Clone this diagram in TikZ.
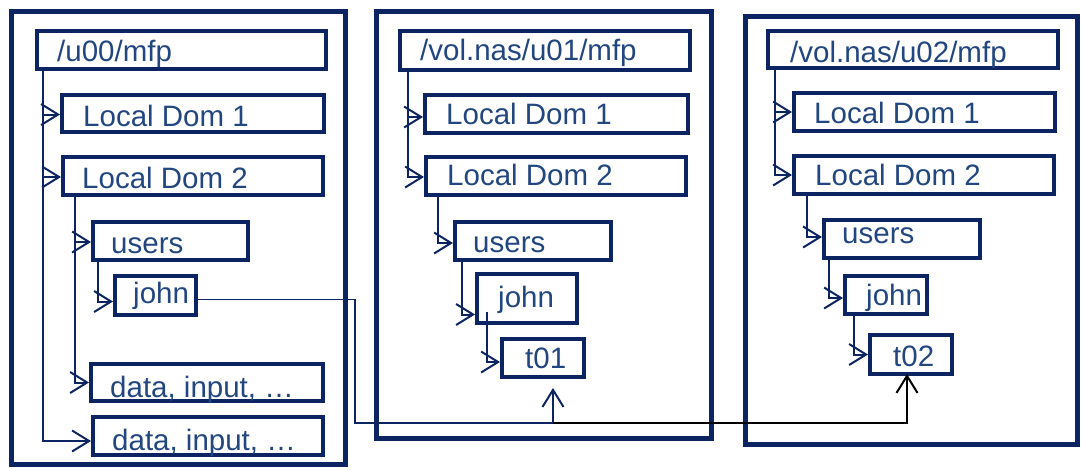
\documentclass[tikz,border=0pt]{standalone}
\usepackage{fontspec}
\setmainfont{Liberation Sans}
\usetikzlibrary{arrows.meta,calc}
\definecolor{navy}{HTML}{0C2461}
\definecolor{txtblue}{HTML}{22467F}
\newcommand\mkbox[8]{%
  \node[box, minimum width=#4pt, minimum height=#5pt] (#1) at (#2,#3) {};
  \node[lbl] (#1-t) at ([xshift=#7pt,yshift=#8pt]#1.south west) {#6};}
\begin{document}
\begin{tikzpicture}[x=1pt,y=-1pt,
  panel/.style={draw=navy, line width=5pt, anchor=north west, inner sep=0pt, outer sep=2.5pt},
  box/.style={draw=navy, line width=4pt, anchor=north west, inner sep=0pt, outer sep=2pt},
  lbl/.style={font=\fontsize{29.5}{32}\selectfont, text=txtblue, inner sep=0pt, anchor=base west},
  barb/.tip={Straight Barb[length=17pt,width=21pt,line width=2pt]},
  tree/.style={draw=navy, line width=2pt, -barb},
  bluelink/.style={draw=navy, line width=1.6pt},
  blacklink/.style={draw=black, line width=1.6pt}]
\useasboundingbox (0,0) rectangle (1081,469);
% panels
\node[panel, minimum width=334pt, minimum height=453pt] (p1) at (9,9) {};
\node[panel, minimum width=335pt, minimum height=427pt] (p2) at (374,9) {};
\node[panel, minimum width=332pt, minimum height=428pt] (p3) at (743,14) {};
% panel 1
\mkbox{root1}{35}{29}{289}{38}{/u00/mfp}{22}{10}
\mkbox{ldA1}{60}{93}{262}{37}{Local Dom 1}{23}{8}
\mkbox{ldB1}{61}{155}{260}{38}{Local Dom 2}{21}{9}
\mkbox{users1}{91}{220}{155}{38}{users}{20}{9}
\mkbox{john1}{113}{274}{81}{39}{john}{20}{14}
\mkbox{dataA1}{89}{362}{232}{37}{data, input, …}{21}{6}
\mkbox{dataB1}{91}{415}{230}{38}{data, input, …}{21}{7}
% panel 2
\mkbox{root2}{398}{29}{290}{39}{/vol.nas/u01/mfp}{22}{12}
\mkbox{ldA2}{423}{93}{263}{38}{Local Dom 1}{23}{11}
\mkbox{ldB2}{424}{155}{260}{38}{Local Dom 2}{23}{12}
\mkbox{users2}{453}{220}{156}{38}{users}{20}{10}
\mkbox{john2}{475}{272}{100}{49}{john}{23}{18}
\mkbox{t01}{500}{337}{82}{38}{t01}{25}{11}
% panel 3
\mkbox{root3}{766}{29}{290}{37}{/vol.nas/u02/mfp}{24}{8}
\mkbox{ldA3}{792}{91}{261}{38}{Local Dom 1}{22}{10}
\mkbox{ldB3}{792}{154}{260}{38}{Local Dom 2}{23}{11}
\mkbox{users3}{822}{218}{156}{38}{users}{20}{17}
\mkbox{john3}{843}{274}{82}{38}{john}{23}{11}
\mkbox{t02}{868}{333}{82}{39}{t02}{25}{10}
% tree connectors panel 1
\draw[tree] ([xshift=8pt]root1.south west) |- ([yshift=-1pt]ldA1.west);
\draw[tree] ([xshift=8pt]root1.south west) |- ([yshift=-1pt]ldB1.west);
\draw[tree] ([xshift=8pt]root1.south west) |- ([yshift=-5pt]dataB1.west);
\draw[tree] ([xshift=14pt]ldB1.south west) |- ([yshift=-1pt]users1.west);
\draw[tree] ([xshift=14pt]ldB1.south west) |- (dataA1.west);
\draw[tree] ([xshift=7pt]users1.south west) |- ([yshift=-6pt]john1.west);
% tree connectors panel 2
\draw[tree] ([xshift=10pt]root2.south west) |- ([yshift=-3pt]ldA2.west);
\draw[tree] ([xshift=10pt]root2.south west) |- ([yshift=-1pt]ldB2.west);
\draw[tree] ([xshift=14pt]ldB2.south west) |- ([yshift=-2pt]users2.west);
\draw[tree] ([xshift=9pt]users2.south west) |- ([yshift=-16pt]john2.west);
\draw[tree] ([xshift=12pt,yshift=13pt]john2.south west) |- ([yshift=-4pt]t01.west);
% tree connectors panel 3
\draw[tree] ([xshift=9pt]root3.south west) |- (ldA3.west);
\draw[tree] ([xshift=9pt]root3.south west) |- (ldB3.west);
\draw[tree] ([xshift=15pt]ldB3.south west) |- ([yshift=2pt]users3.west);
\draw[tree] ([xshift=7pt]users3.south west) |- ([yshift=-3pt]john3.west);
\draw[tree] ([xshift=11pt]john3.south west) |- (t02.west);
% link from john to t01 and t02
\coordinate (bend) at (355,423);
\coordinate (junc) at ([xshift=10pt]t01.south |- bend);
\draw[bluelink] ([yshift=-4pt]john1.east) -| (bend) -- (junc);
\draw[tree] (junc) -- ([xshift=10pt,yshift=-9pt]t01.south);
\draw[blacklink, -{Straight Barb[length=17pt,width=21pt,line width=2pt]}] (junc) -| ([xshift=-4pt,yshift=2pt]t02.south);
\end{tikzpicture}
\end{document}
